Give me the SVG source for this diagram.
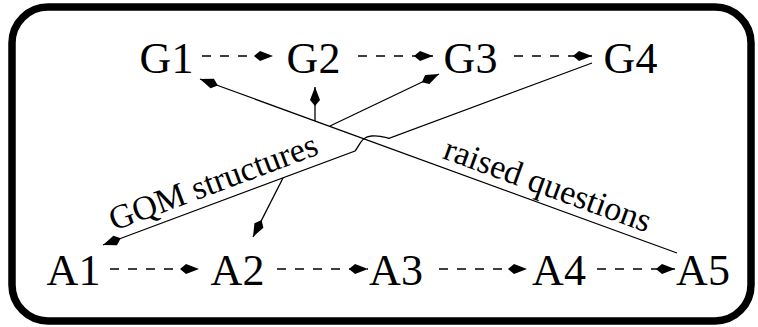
<svg xmlns="http://www.w3.org/2000/svg" width="758" height="327" viewBox="0 0 758 327">
  <style>
    .node { font-family: "Liberation Serif", "Times New Roman", serif; font-size: 44px; fill: #000; text-anchor: middle; }
    .label { font-family: "Liberation Serif", "Times New Roman", serif; font-size: 34px; fill: #000; }
    .flow { fill: none; stroke: #000; stroke-width: 1.3; stroke-dasharray: 9 9; marker-end: url(#kite); }
    .link { fill: none; stroke: #000; stroke-width: 1.3; }
    .to { marker-end: url(#kite); }
  </style>
  <defs>
    <!-- filled kite-shaped arrowhead, tip at the path end -->
    <marker id="kite" viewBox="-20 -6 21 12" refX="0" refY="0" markerWidth="21" markerHeight="12" markerUnits="userSpaceOnUse" orient="auto-start-reverse">
      <path d="M0,0 L-13,-5 L-19,0 L-13,5 Z" fill="#000"/>
    </marker>
  </defs>

  <!-- frame -->
  <rect x="12" y="7" width="739" height="314" rx="36" ry="36" fill="#fff" stroke="#000" stroke-width="7.5"/>

  <!-- goals -->
  <g id="G1"><text class="node" x="166.5" y="73">G1</text></g>
  <g id="G2"><text class="node" x="313.5" y="73">G2</text></g>
  <g id="G3"><text class="node" x="470.5" y="73">G3</text></g>
  <g id="G4"><text class="node" x="630.5" y="73">G4</text></g>

  <!-- activities -->
  <g id="A1"><text class="node" x="73.5" y="285">A1</text></g>
  <g id="A2"><text class="node" x="237.5" y="285">A2</text></g>
  <g id="A3"><text class="node" x="396" y="285">A3</text></g>
  <g id="A4"><text class="node" x="559" y="285">A4</text></g>
  <g id="A5"><text class="node" x="703" y="285">A5</text></g>

  <g id="connectors">
    <!-- sequence of goals -->
    <line class="flow" x1="202" y1="56" x2="273" y2="56"/>
    <line class="flow" x1="358" y1="56" x2="433" y2="56"/>
    <line class="flow" x1="514" y1="56" x2="592" y2="56"/>
    <!-- sequence of activities -->
    <line class="flow" x1="110" y1="269" x2="199" y2="269"/>
    <line class="flow" x1="277" y1="269" x2="368" y2="269"/>
    <line class="flow" x1="439" y1="269" x2="527" y2="269"/>
    <line class="flow" x1="597" y1="269" x2="675" y2="269"/>

    <!-- raised questions: A5 back to goals -->
    <line class="link to" x1="677" y1="253" x2="200" y2="79"/>
    <line class="link to" x1="315" y1="121" x2="315" y2="87"/>
    <line class="link to" x1="330" y1="126" x2="439" y2="74"/>

    <!-- GQM structures: G4 down to activities, hopping over the other line -->
    <path class="link" d="M103,245 L355,151 C360,145 361,137 371,136 C379,135 384,137 389,138.3 L592,63" marker-start="url(#kite)"/>
    <line class="link to" x1="283" y1="178" x2="253" y2="237"/>
  </g>

  <!-- connector labels -->
  <text class="label" transform="translate(114,231) rotate(-20.5)">GQM structures</text>
  <text class="label" transform="translate(441.5,158) rotate(20)">raised questions</text>
</svg>
